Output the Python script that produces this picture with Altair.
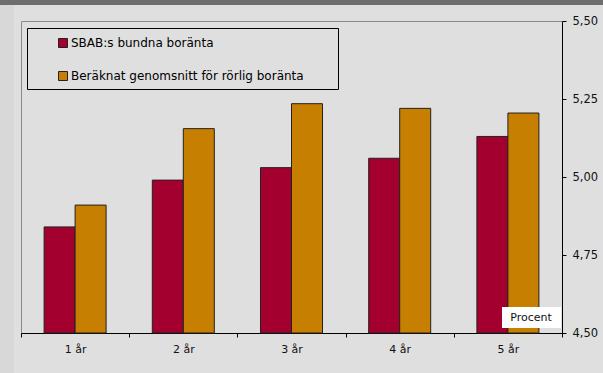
import altair as alt
import pandas as pd

categories = ["1 år", "2 år", "3 år", "4 år", "5 år"]
series_names = ["SBAB:s bundna boränta", "Beräknat genomsnitt för rörlig boränta"]
sbab = [4.84, 4.99, 5.03, 5.06, 5.13]
genomsnitt = [4.91, 5.155, 5.235, 5.22, 5.205]
y_ticks = [4.50, 4.75, 5.00, 5.25, 5.50]
unit_label = ["Procent"]
colors = ["#a3002f", "#c67f00"]

rows = []
for i, c in enumerate(categories):
    rows.append({"kategori": c, "serie": series_names[0], "varde": sbab[i]})
    rows.append({"kategori": c, "serie": series_names[1], "varde": genomsnitt[i]})
df = pd.DataFrame(rows)
unit_df = pd.DataFrame({"t": unit_label})

W, H = 541, 312
FONT = "DejaVu Sans"
BG = "#dfdfdf"

bars = alt.Chart(df).mark_bar(stroke="#222222", strokeWidth=1).encode(
    x=alt.X(
        "kategori:N", sort=categories, title=None,
        scale=alt.Scale(paddingInner=0, paddingOuter=0),
        axis=alt.Axis(orient="bottom", tickBand="extent", labelAngle=0, tickSize=4,
                      labelPadding=6, domainColor="#000000", tickColor="#000000",
                      labelColor="#111111", labelFont=FONT, labelFontSize=11,
                      domainWidth=1, tickWidth=1, grid=False),
    ),
    xOffset=alt.XOffset("serie:N", sort=series_names,
                        scale=alt.Scale(paddingInner=0, paddingOuter=0.745)),
    y=alt.Y(
        "varde:Q", title=None,
        scale=alt.Scale(domain=[4.5, 5.5], nice=False, zero=False),
        axis=alt.Axis(orient="right", values=y_ticks, tickSize=4, labelPadding=6,
                      labelExpr="replace(format(datum.value, '.2f'), '.', ',')",
                      domainColor="#000000", tickColor="#000000", labelColor="#111111",
                      labelFont=FONT, labelFontSize=11.5, grid=False, labelBaseline="middle"),
    ),
    y2=alt.datum(4.5),
    color=alt.Color(
        "serie:N", sort=series_names,
        scale=alt.Scale(domain=series_names, range=colors),
        legend=alt.Legend(
            title=None, orient="none", legendX=6, legendY=7, direction="vertical",
            padding=9, symbolOffset=21, symbolType="square", symbolSize=81,
            symbolStrokeColor="#222222", symbolStrokeWidth=1, labelOffset=2,
            rowPadding=19, labelFont=FONT, labelFontSize=12, labelColor="#000000",
            labelLimit=400,
        ),
    ),
)

legend_frame = alt.Chart(unit_df).mark_rect(
    fill=BG, stroke="#000000", strokeWidth=1
).encode(x=alt.value(6.5), x2=alt.value(317.5), y=alt.value(7.5), y2=alt.value(68.5))
top_band = alt.Chart(unit_df).mark_rect(color="#6e6e6e").encode(
    x=alt.value(-21), x2=alt.value(W + 62), y=alt.value(-21), y2=alt.value(-16)
)
left_strip = alt.Chart(unit_df).mark_rect(color="#d8d8d8").encode(
    x=alt.value(-21), x2=alt.value(-7), y=alt.value(-16), y2=alt.value(H + 40)
)
unit_box = alt.Chart(unit_df).mark_rect(color="#ffffff").encode(
    x=alt.value(481), x2=alt.value(540), y=alt.value(286), y2=alt.value(307)
)
unit_text = alt.Chart(unit_df).mark_text(
    font=FONT, fontSize=11, color="#111111", align="center", baseline="middle"
).encode(x=alt.value(510), y=alt.value(296.5), text="t:N")

chart = alt.layer(left_strip, top_band, legend_frame, bars, unit_box, unit_text).properties(
    width=W, height=H,
    autosize=alt.AutoSizeParams(type="none"),
    padding={"left": 21, "top": 21, "right": 41, "bottom": 40},
    background=BG,
).configure_view(
    fill=BG, stroke="#8a8a8a", strokeWidth=1
)

chart.save("out.html", embed_options={"renderer": "svg", "actions": False})
